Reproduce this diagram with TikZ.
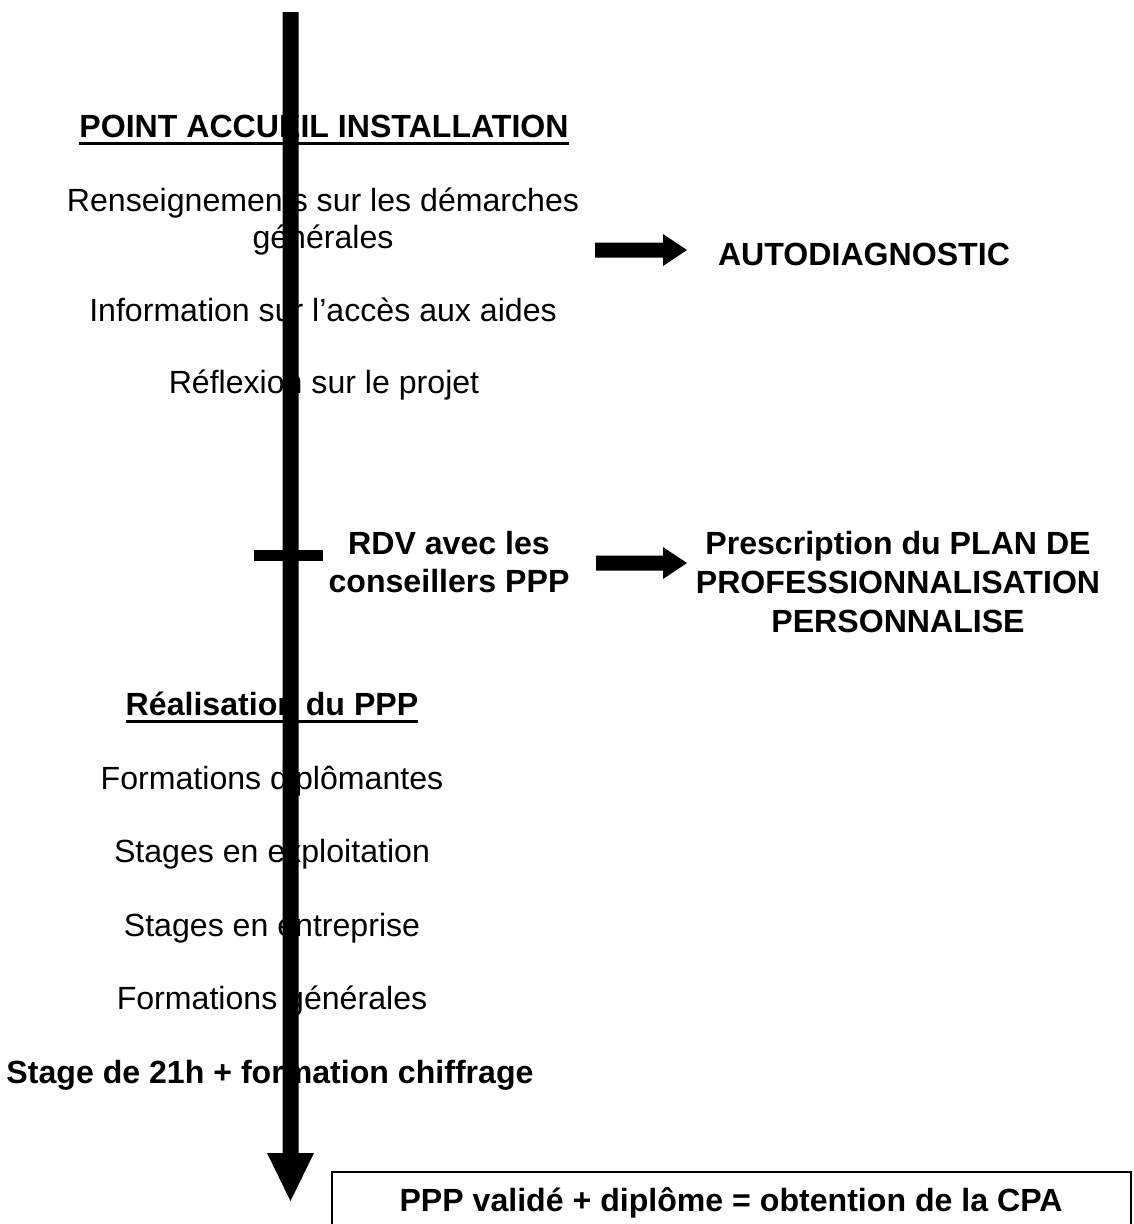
\documentclass[tikz,border=0pt]{standalone}
\usepackage{fontspec}
\setmainfont{Liberation Sans}
\begin{document}
\begin{tikzpicture}[x=1pt,y=-1pt,
  txt/.style={anchor=base, inner sep=0pt, font=\fontsize{32.1}{38}\selectfont},
  btxt/.style={anchor=base, inner sep=0pt, font=\fontsize{32.1}{38}\selectfont\bfseries},
  uline/.style={line width=3pt},
  solid/.style={fill=black, draw=none}]
\useasboundingbox (0,0) rectangle (1133,1224);
\clip (0,0) rectangle (1133,1224);

% upper block
\node[btxt] (pai) at (324,137) {POINT ACCUEIL INSTALLATION};
\draw[uline] ([yshift=-6.5pt]pai.base west) -- ([yshift=-6.5pt]pai.base east);
\node[txt] (ren1) at (323,211) {Renseignements sur les démarches};
\node[txt] (ren2) at (323,248) {générales};
\node[txt] (info) at (323,321) {Information sur l’accès aux aides};
\node[txt] (refl) at (324,393) {Réflexion sur le projet};
\node[btxt] (auto) at (864,265.5) {AUTODIAGNOSTIC};

% middle block
\node[btxt] (rdv1) at (449,554) {RDV avec les};
\node[btxt] (rdv2) at (449,592.5) {conseillers PPP};
\node[btxt] (pre1) at (898,554) {Prescription du PLAN DE};
\node[btxt] (pre2) at (898,593) {PROFESSIONNALISATION};
\node[btxt] (pre3) at (898,632) {PERSONNALISE};

% lower block
\node[btxt] (real) at (272,715) {Réalisation du PPP};
\draw[uline] ([yshift=-6.5pt]real.base west) -- ([yshift=-6.5pt]real.base east);
\node[txt] (f1) at (272,789) {Formations diplômantes};
\node[txt] (f2) at (272,862.5) {Stages en exploitation};
\node[txt] (f3) at (272,936) {Stages en entreprise};
\node[txt] (f4) at (272,1009.5) {Formations générales};
\node[btxt] (f5) at (270,1083) {Stage de 21h + formation chiffrage};

% final box
\node[draw, line width=2pt, anchor=north west, minimum width=799pt, minimum height=80pt, inner sep=0pt] (box) at (331,1171) {};
\node[btxt] (cpa) at (731,1211) {PPP validé + diplôme = obtention de la CPA};

% timeline arrow
\coordinate (ttop) at (290.5,12);
\coordinate (tneck) at (290.5,1153);
\coordinate (ttip) at (290.5,1201);
\fill[solid] (ttop) ++(-8,0) -- ++(16,0) -- (tneck -| 298.5,0) -- (tneck -| 314,0) -- (ttip) -- (tneck -| 267,0) -- (tneck -| 282.5,0) -- cycle;

% tick
\coordinate (tick) at (288.5,555.5);
\fill[solid] (tick) ++(-34.5,-5.5) rectangle ++(69,11);

% right arrows
\coordinate (a1) at (595,250);
\fill[solid] (a1) ++(0,-7.5) -- ++(68,0) -- ++(0,-8.5) -- ++(24,16) -- ++(-24,16) -- ++(0,-8.5) -- ++(-68,0) -- cycle;
\coordinate (a2) at (596,563);
\fill[solid] (a2) ++(0,-7.5) -- ++(67,0) -- ++(0,-8.5) -- ++(24,16) -- ++(-24,16) -- ++(0,-8.5) -- ++(-67,0) -- cycle;
\end{tikzpicture}
\end{document}
